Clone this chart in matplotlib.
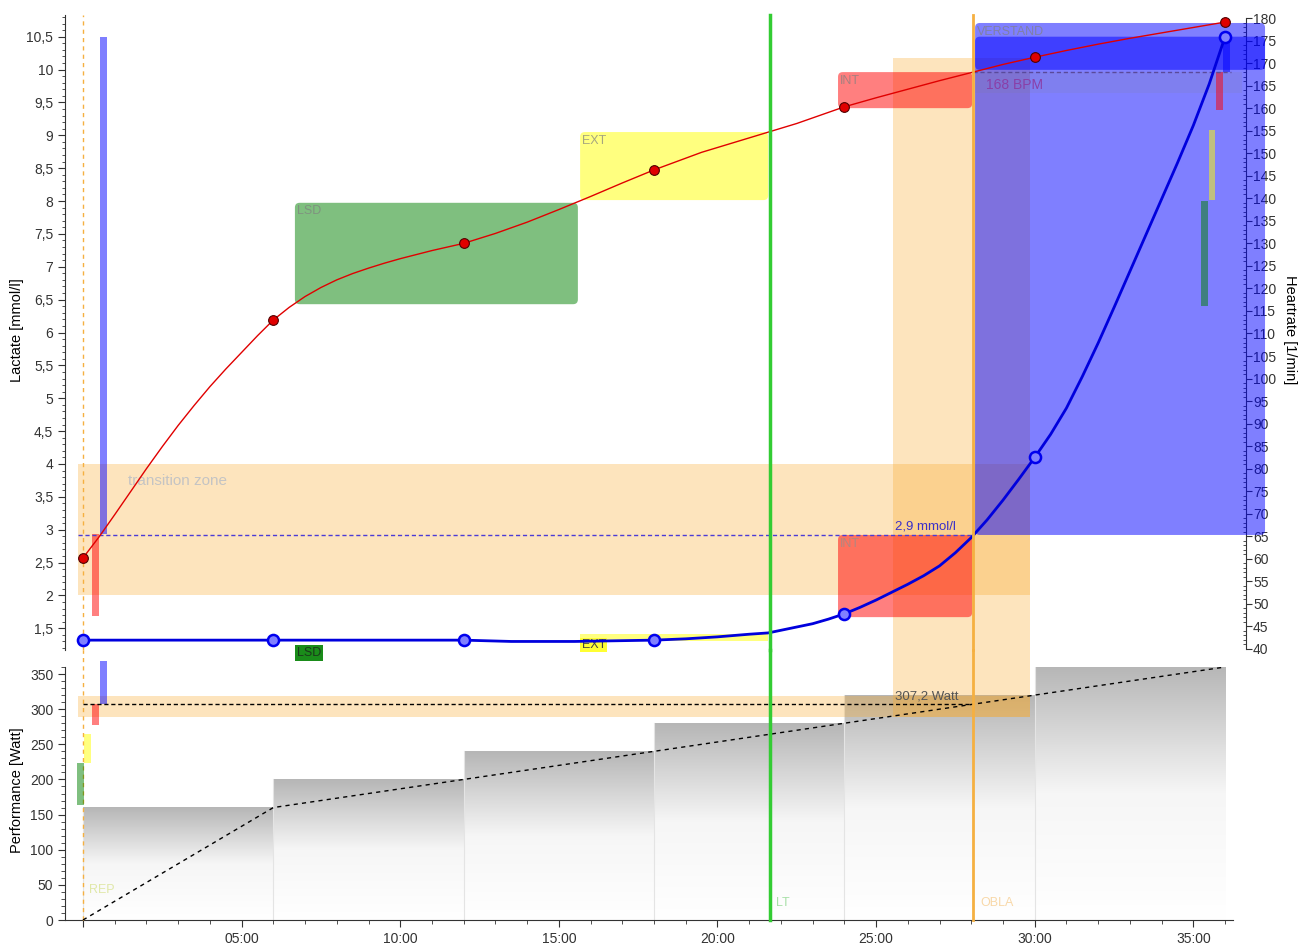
import matplotlib
matplotlib.use("Agg")
import matplotlib.pyplot as plt
import numpy as np
from matplotlib.patches import Rectangle, FancyBboxPatch
from matplotlib.colors import LinearSegmentedColormap
from matplotlib.ticker import MultipleLocator, FuncFormatter

plt.rcParams['font.family'] = ['Liberation Sans', 'DejaVu Sans']

# measured stages (minutes)
stage_min = [0, 6, 12, 18, 24, 30, 36]
stage_lactate = [1.32, 1.32, 1.32, 1.32, 1.72, 4.1, 10.5]
stage_hr = [60.2, 113, 130, 146.3, 160.3, 171.3, 179.1]

# smoothed curves
lac_curve_min = [0, 6, 12, 13.5, 15.5, 18, 19, 20, 21, 21.6, 22, 22.5, 23, 23.5, 24,
                 24.5, 25, 25.5, 26, 26.5, 27, 27.5, 28, 28.5, 29, 29.5, 30,
                 30.5, 31, 31.5, 32, 32.5, 33, 33.5, 34, 34.5, 35, 35.5, 36]
lac_curve_val = [1.32, 1.32, 1.32, 1.30, 1.30, 1.32, 1.34, 1.37, 1.41, 1.43, 1.47, 1.52, 1.57, 1.64, 1.72,
                 1.82, 1.93, 2.05, 2.17, 2.30, 2.45, 2.65, 2.88, 3.15, 3.45, 3.77, 4.1,
                 4.45, 4.85, 5.33, 5.84, 6.38, 6.93, 7.48, 8.03, 8.58, 9.15, 9.78, 10.5]
hr_curve_min = [0, 0.5, 1, 1.5, 2, 2.5, 3, 3.5, 4, 4.5, 5, 5.5, 6, 6.5, 7, 7.5, 8, 8.5, 9, 9.5, 10,
                10.5, 11, 11.5, 12, 13, 14, 15, 16, 17, 18, 19.5, 21, 22.5, 24, 25, 26, 27, 28.06,
                29, 30, 31, 32, 33, 34, 35, 36]
hr_curve_val = [60.2, 64.8, 69.8, 74.9, 80.0, 84.9, 89.6, 94.0, 98.2, 102.1, 105.8, 109.5, 113, 115.8,
                118.2, 120.2, 121.9, 123.3, 124.5, 125.6, 126.6, 127.5, 128.4, 129.2, 130, 132.2,
                134.7, 137.5, 140.4, 143.4, 146.3, 150.2, 153.4, 156.6, 160.3, 162.3, 164.2, 166.1,
                168, 169.7, 171.3, 172.8, 174.2, 175.5, 176.7, 177.9, 179.1]

# power protocol
step_start = [0, 6, 12, 18, 24, 30]
step_watt = [160, 200, 240, 280, 320, 360]
ramp_min = [0, 6, 12, 18, 24, 30, 36]
ramp_watt = [0, 160, 200, 240, 280, 320, 360]

# thresholds
lt_min = 21.64
obla_min = 28.06
obla_lactate = 2.92
obla_hr = 168
obla_watt = 307.2
trans_lac = (2.0, 4.0)
trans_watt = (289, 319)
trans_min = (25.54, 29.85)

# training zones
zone_names = ['LSD', 'EXT', 'INT', 'VERSTAND']
zone_colors = ['green', 'yellow', 'red', 'blue']
hr_zone_t0 = [6.68, 15.67, 23.8, 28.12]
hr_zone_t1 = [15.6, 21.6, 28.03, 37.26]
hr_zone_lo = [116.5, 139.6, 160, 168.5]
hr_zone_hi = [139, 154.7, 168, 178.9]
hr_bar_lo = [116, 139.6, 159.6, 168]
hr_bar_hi = [139.4, 155.2, 168, 176.7]
watt_bar_lo = [164, 224, 278, 307]
watt_bar_hi = [223, 265, 308, 368]
lac_bar_lo = [1.68, 2.93]
lac_bar_hi = [2.93, 10.5]

fig = plt.figure(figsize=(13.07, 9.49), dpi=100)
ax = fig.add_axes([65/1307, (949-650)/949, (1246-65)/1307, (650-15)/949])
ax_hr = ax.twinx()
ax2 = fig.add_axes([65/1307, 29/949, (1233-65)/1307, 253/949])

ax.set_xlim(-0.567, 36.66)
ax.set_ylim(1.17, 10.83)
ax_hr.set_ylim(39.77, 180.67)
ax2.set_xlim(-0.567, 36.25)
ax2.set_ylim(0, 360)
ax.set_zorder(2)
ax_hr.set_zorder(1)
ax.patch.set_visible(False)
hrT = ax_hr.transData

orange = '#f9a825'


def zone_box(target, x0, x1, y0, y1, color, transform, aspect, alpha=0.5, rounded=True, clip=True):
    if rounded:
        p = FancyBboxPatch((x0, y0), x1 - x0, y1 - y0,
                           boxstyle="round,pad=0,rounding_size=0.15",
                           mutation_aspect=aspect, transform=transform,
                           facecolor=color, edgecolor='none', alpha=alpha, zorder=2)
    else:
        p = Rectangle((x0, y0), x1 - x0, y1 - y0, transform=transform,
                      facecolor=color, edgecolor='none', alpha=alpha, zorder=2)
    p.set_clip_on(clip)
    target.add_patch(p)


asp_lac = 31.72 / 65.7
asp_hr = 31.72 / 4.507

# transition zone bands
ax.add_patch(Rectangle((-0.16, trans_lac[0]), trans_min[1] + 0.16, trans_lac[1] - trans_lac[0],
                       facecolor=orange, alpha=0.3, zorder=1, edgecolor='none'))
ax.add_patch(Rectangle((trans_min[0], 1.0), trans_min[1] - trans_min[0], 9.18,
                       facecolor=orange, alpha=0.3, zorder=1, edgecolor='none'))
ax.text(1.42, 3.74, 'transition zone', color='#c4c4c4', fontsize=11, va='center', zorder=3)

# heart rate zones
for i in range(4):
    zone_box(ax, hr_zone_t0[i], hr_zone_t1[i], hr_zone_lo[i], hr_zone_hi[i],
             zone_colors[i], hrT, asp_hr, clip=(i < 3))
    ax.text(hr_zone_t0[i] + 0.07, hr_zone_hi[i] - 0.6, zone_names[i], transform=hrT,
            color='#808080', alpha=0.7, fontsize=9, va='top', zorder=3, clip_on=False)

# lactate zones
zone_box(ax, 23.8, 28.03, 1.67, 2.92, 'red', ax.transData, asp_lac)
ax.text(23.87, 2.87, 'INT', color='#909090', alpha=0.7, fontsize=9, va='top', zorder=3)
zone_box(ax, 28.12, 37.26, 2.92, 10.5, 'blue', ax.transData, asp_lac, clip=False)
zone_box(ax, 15.67, 21.6, 1.31, 1.42, 'yellow', ax.transData, asp_lac, rounded=False)
ax.text(15.72, 1.245, 'EXT', color='#444444', fontsize=9, va='center', zorder=3, clip_on=False,
        bbox=dict(boxstyle='square,pad=0.1', facecolor='#ffff33', edgecolor='none'))
ax.text(6.75, 1.124, 'LSD', color='#1a3a1a', fontsize=9, va='center', zorder=3, clip_on=False,
        bbox=dict(boxstyle='square,pad=0.15', facecolor='#1a8c1a', edgecolor='none'))

# 168 BPM label band
ax.add_patch(Rectangle((28.12, 163.3), 8.4, 4.7, transform=hrT, facecolor='gray',
                       alpha=0.12, edgecolor='none', zorder=2))

# zone indicator bars
for x0, lo, hi, c in zip([0.29, 0.54], lac_bar_lo, lac_bar_hi, ['red', 'blue']):
    ax.add_patch(Rectangle((x0, lo), 0.21, hi - lo, facecolor=c, alpha=0.5,
                           edgecolor='none', zorder=2))
for x0, lo, hi, c in zip([35.25, 35.48, 35.72, 35.95], hr_bar_lo, hr_bar_hi, zone_colors):
    ax.add_patch(Rectangle((x0, lo), 0.2, hi - lo, transform=hrT, facecolor=c, alpha=0.5,
                           edgecolor='none', zorder=2))

# threshold lines
ax.plot([-0.15, obla_min], [obla_lactate] * 2, ls=(0, (3, 2)), color='#4b3bd6', lw=1, zorder=4)
ax.text(25.6, 2.96, '2,9 mmol/l', color='#3a2fc8', fontsize=9.5, va='bottom', zorder=4)
ax.plot([obla_min, 36.2], [obla_hr] * 2, transform=hrT, ls=(0, (3, 2)), color='#5a4a9a',
        lw=1, zorder=4)
ax.text(28.45, 165.2, '168 BPM', transform=hrT, color='#8a3fa8', fontsize=10, va='center',
        zorder=4)

# curves
ax.plot(hr_curve_min, hr_curve_val, transform=hrT, color='#e00000', lw=1, zorder=5)
ax.plot(stage_min, stage_hr, transform=hrT, ls='none', marker='o', ms=7,
        mfc='#e00000', mec='#500000', mew=0.8, zorder=6, clip_on=False)
ax.plot(lac_curve_min, lac_curve_val, color='#0000dd', lw=2, zorder=5)
ax.plot(stage_min, stage_lactate, ls='none', marker='o', ms=8, mfc='#8080ff',
        mec='#0000ee', mew=1.8, zorder=6, clip_on=False)

# vertical markers across both panels
for a, top in [(ax, 1.0), (ax2, 1.0 + 17 / 253)]:
    a.axvline(lt_min, ymin=0, ymax=top, color='#33cc33', lw=2.5, zorder=7, clip_on=False)
    a.axvline(obla_min, ymin=0, ymax=top, color='#f5b041', lw=2, zorder=7, clip_on=False)
    a.axvline(0, ymin=0, ymax=top, color='#f5b041', lw=1, ls=(0, (3, 3)), zorder=3,
              clip_on=False)

# power panel
gray_cmap = LinearSegmentedColormap.from_list('steps', ['#ffffff', '#f6f6f6', '#b6b6b6'])
grad = np.linspace(1, 0, 256).reshape(-1, 1)
for t0, w in zip(step_start, step_watt):
    ax2.imshow(grad, extent=(t0, t0 + 6, 0, w), aspect='auto', cmap=gray_cmap,
               vmin=0, vmax=1, zorder=1)
    ax2.plot([t0, t0], [0, w], color='#e4e4e4', lw=0.8, zorder=1)
ax2.set_xlim(-0.567, 36.25)
ax2.set_ylim(0, 360)

ax2.add_patch(Rectangle((-0.16, trans_watt[0]), trans_min[1] + 0.16, trans_watt[1] - trans_watt[0],
                        facecolor=orange, alpha=0.3, zorder=2, edgecolor='none'))
p = Rectangle((trans_min[0], trans_watt[0]), trans_min[1] - trans_min[0], 95,
              facecolor=orange, alpha=0.3, zorder=2, edgecolor='none')
p.set_clip_on(False)
ax2.add_patch(p)

for x0, lo, hi, c in zip([-0.19, 0.04, 0.29, 0.54], watt_bar_lo, watt_bar_hi, zone_colors):
    r = Rectangle((x0, lo), 0.21, hi - lo, facecolor=c, alpha=0.5, edgecolor='none', zorder=3)
    r.set_clip_on(False)
    ax2.add_patch(r)

ax2.plot(ramp_min, ramp_watt, color='black', lw=1, ls=(0, (3, 3)), zorder=4)
ax2.plot([0, obla_min], [obla_watt] * 2, color='black', lw=1, ls=(0, (3, 2)), zorder=4)
ax2.text(25.6, 310, '307,2 Watt', color='#555555', fontsize=9.5, va='bottom', zorder=4)
ax2.text(21.85, 24, 'LT', color='#a8e0a8', fontsize=9, va='center', zorder=4)
ax2.text(28.3, 24, 'OBLA', color='#f8d8a8', fontsize=9, va='center', zorder=4)
ax2.text(0.2, 43, 'REP', color='#e0e8a8', fontsize=9, va='center', zorder=4)

# axes styling
fmt_comma = FuncFormatter(lambda v, _: f"{v:g}".replace('.', ','))
ax.yaxis.set_major_locator(MultipleLocator(0.5))
ax.yaxis.set_minor_locator(MultipleLocator(0.1))
ax.yaxis.set_major_formatter(fmt_comma)
ax.tick_params(axis='y', which='major', length=5, labelsize=10, colors='#333333')
ax.tick_params(axis='y', which='minor', length=2.5, colors='#333333')
ax.tick_params(axis='x', bottom=False, labelbottom=False)
for s in ['top', 'bottom', 'right']:
    ax.spines[s].set_visible(False)
ax.spines['left'].set_color('#333333')

ax_hr.yaxis.set_major_locator(MultipleLocator(5))
ax_hr.yaxis.set_minor_locator(MultipleLocator(1))
ax_hr.tick_params(axis='y', which='major', length=4, direction='out', labelsize=10,
                  colors='#333333', pad=1)
ax_hr.tick_params(axis='y', which='minor', length=2.5, direction='in', colors='#333333')
for s in ['top', 'bottom', 'left']:
    ax_hr.spines[s].set_visible(False)
ax_hr.spines['right'].set_bounds(40, 180)
ax_hr.spines['right'].set_color('#333333')

ax2.yaxis.set_major_locator(MultipleLocator(50))
ax2.yaxis.set_minor_locator(MultipleLocator(10))
ax2.xaxis.set_major_locator(MultipleLocator(5))
ax2.xaxis.set_minor_locator(MultipleLocator(1))
ax2.xaxis.set_major_formatter(FuncFormatter(lambda v, _: '' if v <= 0 else f"{int(v):02d}:00"))
ax2.tick_params(which='major', length=5, labelsize=10, colors='#333333')
ax2.tick_params(which='minor', length=3, colors='#333333')
for s in ['top', 'right']:
    ax2.spines[s].set_visible(False)
ax2.spines['left'].set_color('#333333')
ax2.spines['bottom'].set_color('#333333')

fig.text(17/1307, 1 - 330/949, 'Lactate [mmol/l]', rotation=90, ha='center', va='center',
         fontsize=10.5)
fig.text(17/1307, 1 - 790/949, 'Performance [Watt]', rotation=90, ha='center', va='center',
         fontsize=10.5)
fig.text(1290/1307, 1 - 330/949, 'Heartrate [1/min]', rotation=270, ha='center', va='center',
         fontsize=10.5)

fig.savefig('out.png', dpi=100, facecolor='white')
